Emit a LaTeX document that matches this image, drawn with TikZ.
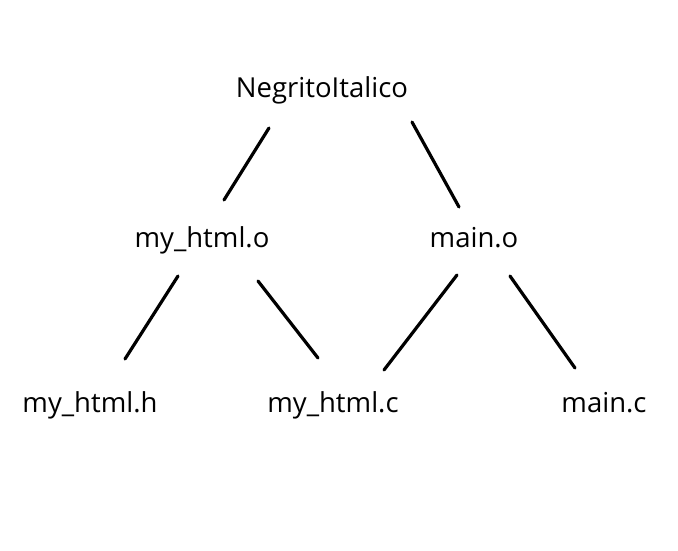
\documentclass[tikz,border=0pt]{standalone}
\usepackage{fontspec}
\setmainfont{Open Sans}
\begin{document}
\begin{tikzpicture}[x=1pt,y=-1pt,
  lbl/.style={anchor=base,inner sep=0pt,font=\fontsize{27.5}{32}\selectfont},
  edge/.style={line width=3.2pt,line cap=round}]
\useasboundingbox (0,0) rectangle (678,550);
\node[lbl] (root) at (322,97) {NegritoItalico};
\node[lbl] (htmlo) at (202,247) {my\_html.o};
\node[lbl] (maino) at (474,247) {main.o};
\node[lbl] (htmlh) at (90,412) {my\_html.h};
\node[lbl] (htmlc) at (333,412) {my\_html.c};
\node[lbl] (mainc) at (604,412) {main.c};
\coordinate (r1) at (269,128);
\coordinate (r2) at (412,122);
\coordinate (ho1) at (224,200);
\coordinate (mo1) at (459,207);
\coordinate (ho2) at (178,276);
\coordinate (ho3) at (258,281);
\coordinate (mo2) at (457,275);
\coordinate (mo3) at (510,276);
\coordinate (hh) at (125,359);
\coordinate (hc1) at (318,358);
\coordinate (hc2) at (384,370);
\coordinate (mc) at (575,368);
\draw[edge] (r1) -- (ho1);
\draw[edge] (r2) -- (mo1);
\draw[edge] (ho2) -- (hh);
\draw[edge] (ho3) -- (hc1);
\draw[edge] (mo2) -- (hc2);
\draw[edge] (mo3) -- (mc);
\end{tikzpicture}
\end{document}
